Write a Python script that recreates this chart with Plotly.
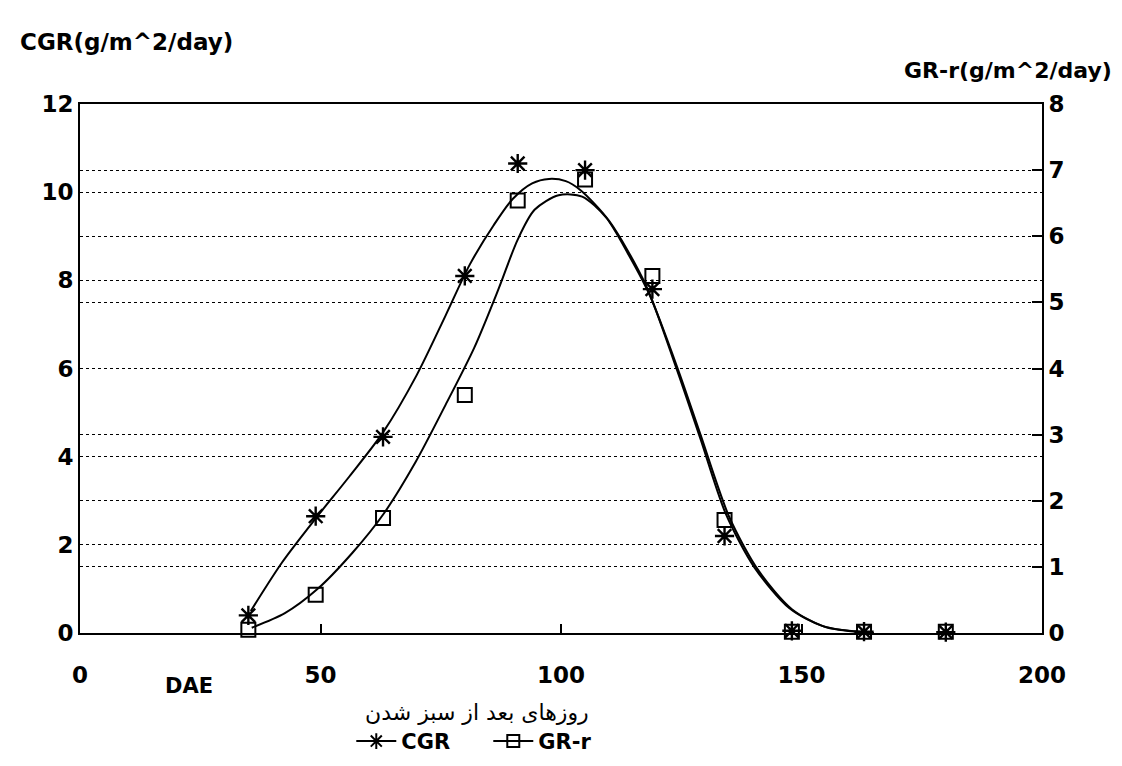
import plotly.graph_objects as go

# ---- data ----
days = [35, 49, 63, 80, 91, 105, 119, 134, 148, 163, 180]
cgr = [0.4, 2.65, 4.45, 8.1, 10.65, 10.5, 7.8, 2.2, 0.05, 0.03, 0.02]
grr = [0.05, 0.58, 1.74, 3.6, 6.54, 6.86, 5.4, 1.71, 0.02, 0.02, 0.02]

# smooth fitted curves, positions
cgr_curve_x = [35.5, 42, 49, 56, 63, 70, 76, 81, 86, 90, 94, 97.5, 101, 104,
               110, 117.6, 124, 129, 134.2, 140.2, 147.5, 154.6, 165]
cgr_curve_y = [0.5, 1.6, 2.6, 3.55, 4.55, 5.85, 7.2, 8.35, 9.25, 9.85, 10.2, 10.3,
               10.25, 10.05, 9.35, 7.9, 6.0, 4.4, 2.72, 1.49, 0.56, 0.15, 0.0]
grr_curve_x = [35.7, 42.6, 49.3, 56.6, 63.1, 69.8, 76, 82, 87, 91, 94.5,
               99.5, 104.4, 109.4, 113.9, 118.5, 124.5, 129, 135, 141, 148, 155, 165]
grr_curve_y = [0.08, 0.3, 0.66, 1.21, 1.8, 2.59, 3.45, 4.32, 5.2, 5.95, 6.4,
               6.62, 6.6, 6.28, 5.74, 5.1, 3.95, 3.0, 1.75, 0.95, 0.36, 0.09, 0.0]

x_ticks = [0, 50, 100, 150, 200]
left_ticks = [0, 2, 4, 6, 8, 10, 12]
right_ticks = [0, 1, 2, 3, 4, 5, 6, 7, 8]

FONT = "DejaVu Sans"
BLACK = "#000000"

fig = go.Figure()

# fitted curves
fig.add_trace(go.Scatter(x=cgr_curve_x, y=cgr_curve_y, mode="lines",
                         line=dict(color=BLACK, width=2, shape="spline", smoothing=0.8),
                         showlegend=False, hoverinfo="skip", yaxis="y"))
fig.add_trace(go.Scatter(x=grr_curve_x, y=grr_curve_y, mode="lines",
                         line=dict(color=BLACK, width=2, shape="spline", smoothing=0.8),
                         showlegend=False, hoverinfo="skip", yaxis="y2"))

# observed points
fig.add_trace(go.Scatter(x=days, y=cgr, mode="markers", name="CGR",
                         marker=dict(symbol="asterisk-open", size=16, color=BLACK,
                                     line=dict(color=BLACK, width=2.4)),
                         cliponaxis=False, showlegend=False, yaxis="y"))
fig.add_trace(go.Scatter(x=days, y=grr, mode="markers", name="GR-r",
                         marker=dict(symbol="square-open", size=14, color=BLACK,
                                     line=dict(color=BLACK, width=2)),
                         cliponaxis=False, showlegend=False, yaxis="y2"))

# legend entries (line + marker)
fig.add_trace(go.Scatter(x=[None], y=[None], mode="lines+markers", name="CGR",
                         line=dict(color=BLACK, width=2),
                         marker=dict(symbol="asterisk-open", size=13, color=BLACK,
                                     line=dict(color=BLACK, width=2))))
fig.add_trace(go.Scatter(x=[None], y=[None], mode="lines+markers", name="GR-r",
                         line=dict(color=BLACK, width=2),
                         marker=dict(symbol="square-open", size=12, color=BLACK,
                                     line=dict(color=BLACK, width=2))))

tickfont = dict(family=FONT, size=23, color=BLACK, weight="bold")

fig.update_layout(
    width=1122, height=766,
    margin=dict(l=72, r=88, t=96, b=130),
    paper_bgcolor="white", plot_bgcolor="white",
    font=dict(family=FONT, color=BLACK),
    xaxis=dict(range=[0, 200], tickvals=x_ticks, ticks="inside", ticklen=9,
               tickwidth=2, tickcolor=BLACK, showline=True, linecolor=BLACK,
               linewidth=2, mirror=True, showgrid=False, zeroline=False,
               tickfont=tickfont, ticklabelstandoff=20),
    yaxis=dict(range=[0, 12], tickvals=left_ticks, ticks="", showline=True,
               linecolor=BLACK, linewidth=2, showgrid=True, gridcolor=BLACK,
               gridwidth=1, griddash="dot", zeroline=False, tickfont=tickfont),
    yaxis2=dict(range=[0, 8], tickvals=right_ticks, overlaying="y", side="right",
                ticks="inside", ticklen=10, tickwidth=2, tickcolor=BLACK,
                showline=True, linecolor=BLACK, linewidth=2, showgrid=True,
                gridcolor=BLACK, gridwidth=1, griddash="dot", zeroline=False,
                tickfont=tickfont),
    legend=dict(orientation="h", x=0.282, y=-0.205, xanchor="left", yanchor="middle",
                font=dict(family=FONT, size=21, color=BLACK, weight="bold"),
                bgcolor="rgba(0,0,0,0)", itemwidth=40,
                entrywidth=82, entrywidthmode="pixels"),
    showlegend=True,
)

fig.add_annotation(text="CGR(g/m^2/day)", xref="paper", yref="paper",
                   x=-0.064, y=1.117, xanchor="left", yanchor="middle", showarrow=False,
                   font=dict(family=FONT, size=23, color=BLACK, weight="bold"))
fig.add_annotation(text="GR-r(g/m^2/day)", xref="paper", yref="paper",
                   x=1.075, y=1.063, xanchor="right", yanchor="middle", showarrow=False,
                   font=dict(family=FONT, size=22, color=BLACK, weight="bold"))
fig.add_annotation(text="DAE", xref="paper", yref="paper",
                   x=0.113, y=-0.1, xanchor="center", yanchor="middle", showarrow=False,
                   font=dict(family=FONT, size=21, color=BLACK, weight="bold"))
fig.add_annotation(text="روزهای بعد از سبز شدن", xref="paper", yref="paper",
                   x=0.413, y=-0.15, xanchor="center", yanchor="middle", showarrow=False,
                   font=dict(family=FONT, size=22, color=BLACK))

fig.write_html("out.html")
